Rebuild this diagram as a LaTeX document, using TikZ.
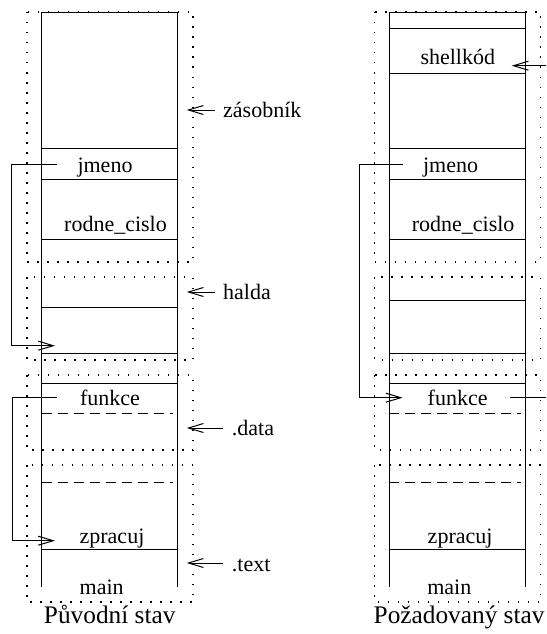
\documentclass[tikz,border=0pt]{standalone}
\usepackage{fontspec}
\setmainfont{Liberation Serif}
\usetikzlibrary{arrows.meta}
\tikzset{
  solidline/.style={line width=0.9pt},
  dotline/.style={line width=1.1pt, dash pattern=on 1.5pt off 8.5pt},
  dashline/.style={line width=0.9pt, dash pattern=on 10pt off 6pt},
  ptr/.style={line width=0.9pt},
  ptrarrow/.style={line width=0.9pt, -{Straight Barb[length=15pt,width=9pt,line width=1pt]}},
  lbl/.style={inner sep=0pt, anchor=base, font=\fontsize{22}{26}\selectfont},
  sidelbl/.style={inner sep=0pt, anchor=base west, font=\fontsize{22}{26}\selectfont},
  captext/.style={inner sep=0pt, anchor=base, font=\fontsize{25.3}{30}\selectfont},
}
\begin{document}
\begin{tikzpicture}[x=1pt,y=-1pt]
\clip (0,0) rectangle (546,634);
% ---------- left column ----------
\draw[dotline] (27,12) rectangle (193,262);
\draw[dotline] (27,277) rectangle (193,360);
\draw[dotline] (27,375) rectangle (193,450);
\draw[dotline] (27,465) rectangle (193,602);
\draw[solidline] (41.7,587) -- (41.7,12) -- (177.7,12) -- (177.7,587);
\foreach \y in {148,179,239,307,353,383,549}
  \draw[solidline] (41.7,\y) -- (177.7,\y);
\foreach \y in {413,482}
  \draw[dashline] (41.7,\y) -- (173,\y);
\node[lbl] (ljmeno) at (105,172) {jmeno};
\node[lbl] (lrodne) at (115.5,231) {rodne\_cislo};
\node[lbl] (lfunkce) at (110,405) {funkce};
\node[lbl] (lzpracuj) at (112,543.3) {zpracuj};
\node[lbl] (lmain) at (101.7,594) {main};
\node[captext] (lcap) at (109.7,623.3) {Původní stav};
% pointers
\coordinate (lp1s) at (57,164);
\coordinate (lp1e) at (55,345.7);
\draw[ptrarrow] (lp1s) -- (11.7,164) |- (lp1e);
\coordinate (lp2s) at (57,397.7);
\coordinate (lp2e) at (55,540.7);
\draw[ptrarrow] (lp2s) -- (12,397.7) |- (lp2e);
% side labels
\node[sidelbl] (zas) at (223,117) {zásobník};
\node[sidelbl] (halda) at (223,299) {halda};
\node[sidelbl] (data) at (231.7,435) {.data};
\node[sidelbl] (text) at (231.7,571) {.text};
\coordinate (zast) at (186.7,110);
\coordinate (haldat) at (186.7,292);
\coordinate (datat) at (186.7,428);
\coordinate (textt) at (186.7,563);
\draw[ptrarrow] (215,110) -- (zast);
\draw[ptrarrow] (215,292) -- (haldat);
\draw[ptrarrow] (223,428) -- (datat);
\draw[ptrarrow] (223,563) -- (textt);
% ---------- right column ----------
\begin{scope}[xshift=347.6pt]
\draw[dotline] (27,12) rectangle (193,262);
\draw[dotline] (27,277) rectangle (193,360);
\draw[dotline] (27,375) rectangle (193,450);
\draw[dotline] (27,465) rectangle (193,602);
\draw[solidline] (41.7,587) -- (41.7,12) -- (177.7,12) -- (177.7,587);
\foreach \y in {28,73,148,179,239,300,353,383,549}
  \draw[solidline] (41.7,\y) -- (177.7,\y);
\foreach \y in {413,482}
  \draw[dashline] (41.7,\y) -- (173,\y);
\node[lbl] (rshell) at (110.2,65) {shellkód};
\node[lbl] (rjmeno) at (103,172) {jmeno};
\node[lbl] (rrodne) at (115.5,231) {rodne\_cislo};
\node[lbl] (rfunkce) at (110,405) {funkce};
\node[lbl] (rzpracuj) at (112.5,543.3) {zpracuj};
\node[lbl] (rmain) at (101.7,594) {main};
\node[captext] (rcap) at (111.5,623.3) {Požadovaný stav};
\coordinate (rp1s) at (55.4,164);
\coordinate (rp1e) at (55,397.7);
\draw[ptrarrow] (rp1s) -- (11.4,164) |- (rp1e);
\coordinate (rp2s) at (162.4,397.7);
\coordinate (rp2o) at (215,397.7);
\draw[ptr] (rp2s) -- (rp2o);
\coordinate (rshs) at (215,65.7);
\coordinate (rsht) at (164.1,65.7);
\draw[ptrarrow] (rshs) -- (rsht);
\end{scope}
\end{tikzpicture}
\end{document}
